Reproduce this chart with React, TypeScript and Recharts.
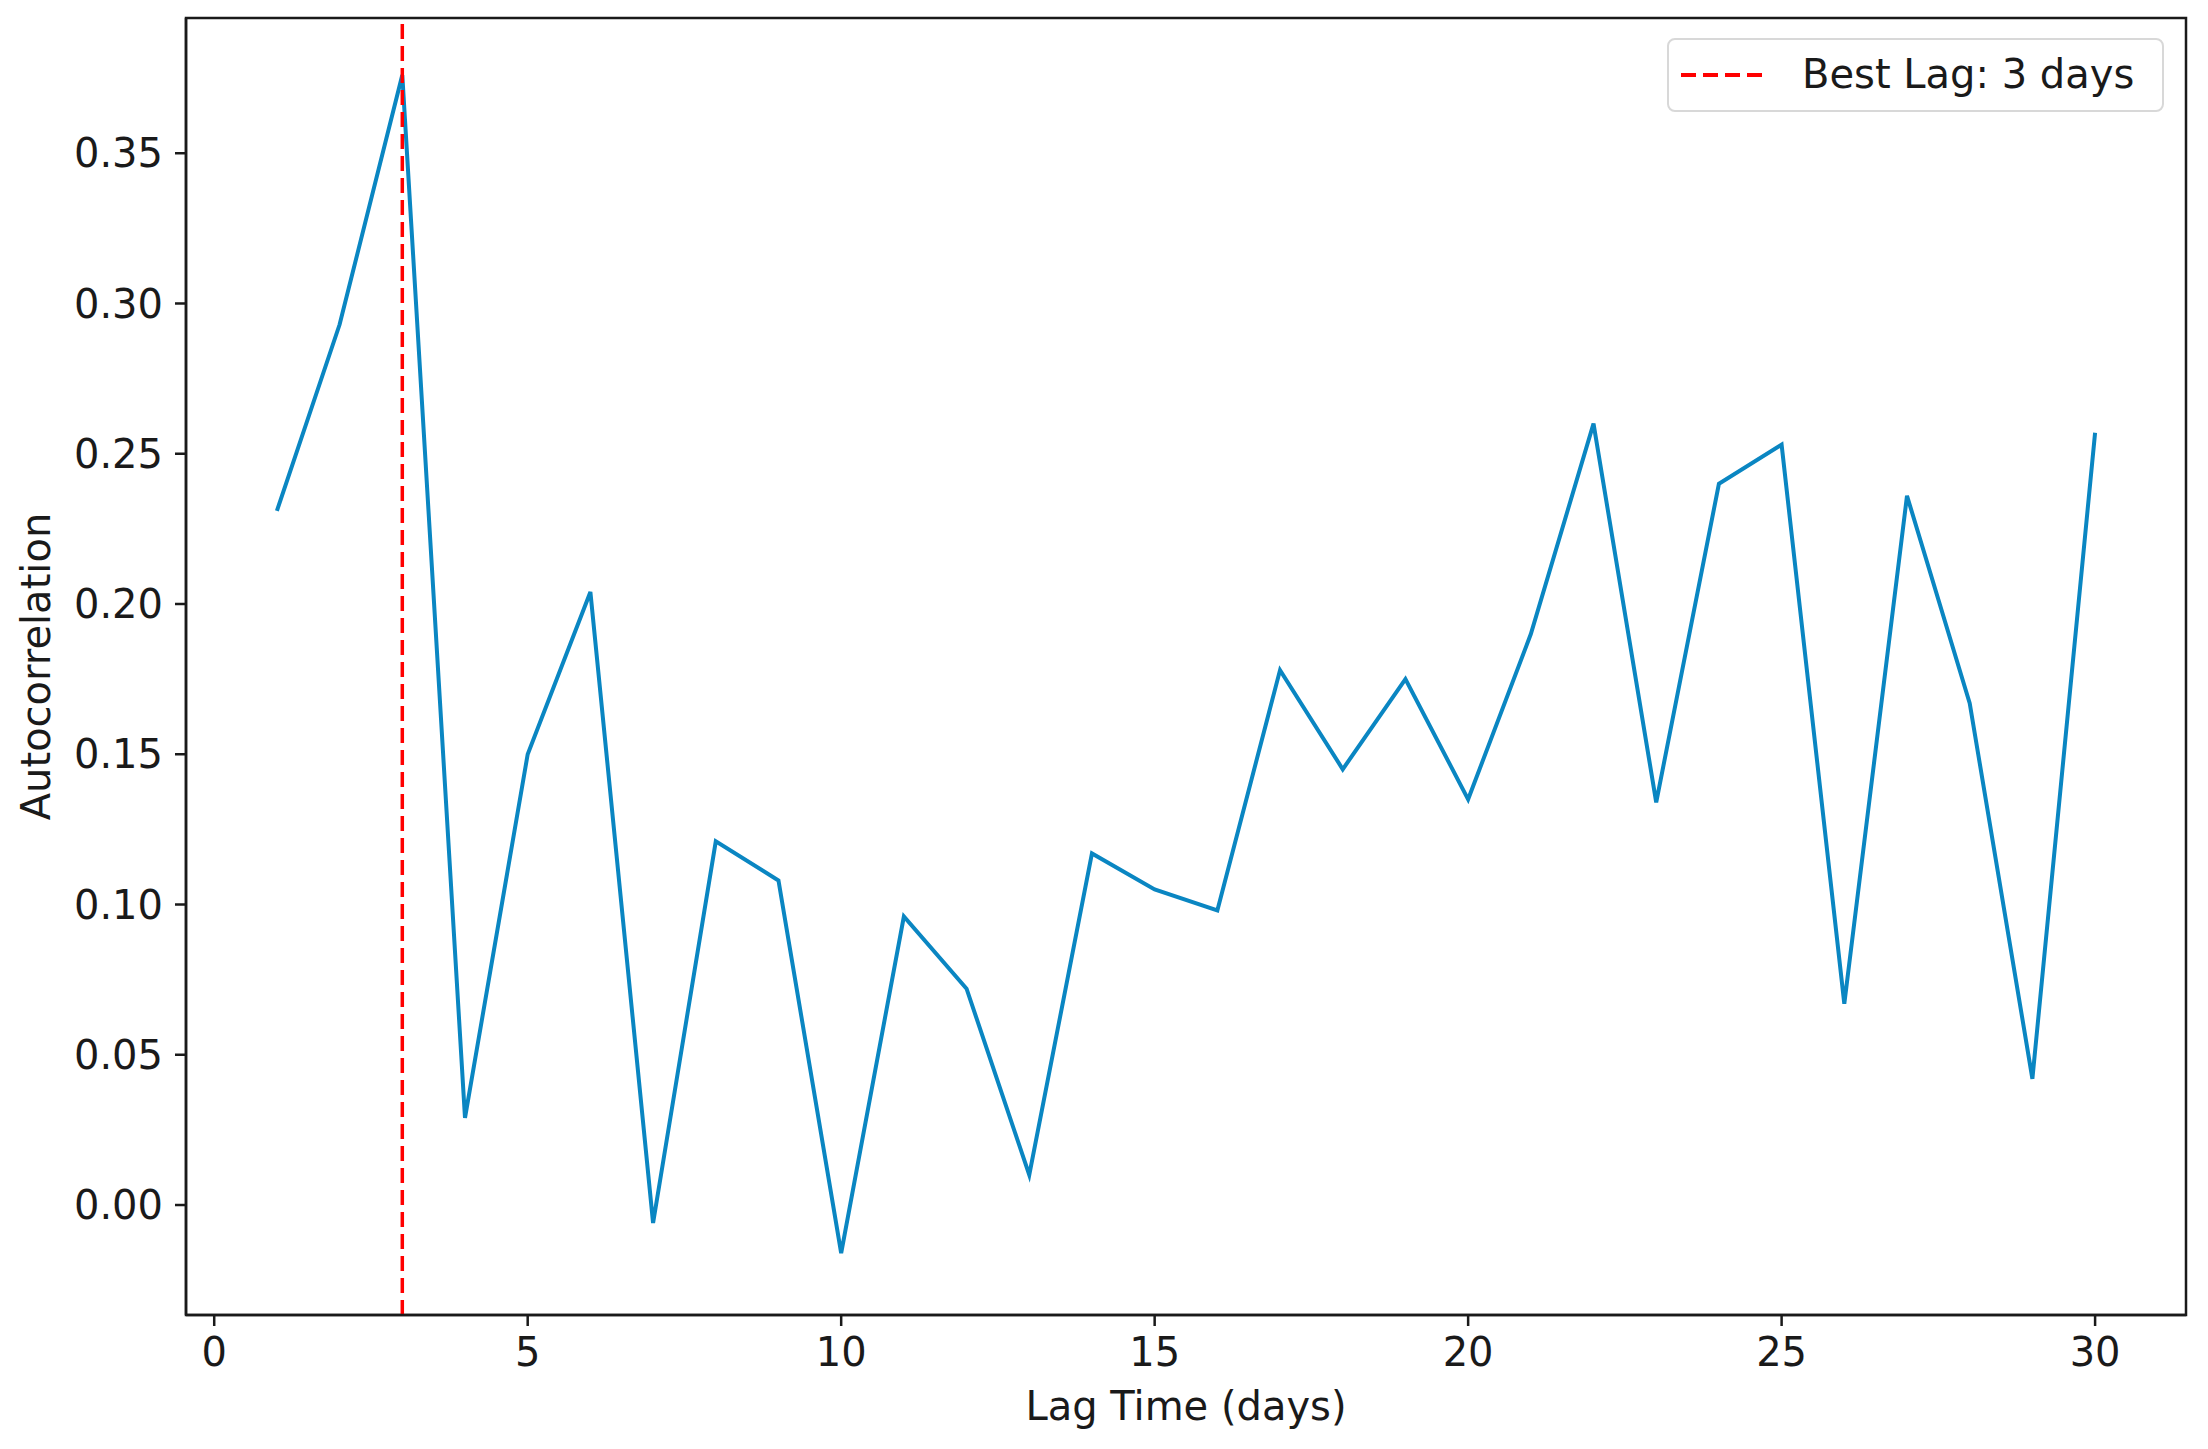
import React from 'react';
import {
  LineChart,
  Line,
  XAxis,
  YAxis,
  ReferenceLine,
  ReferenceArea,
  Legend,
  Label,
} from 'recharts';

// lag (days) and autocorrelation
const lags = [1, 2, 3, 4, 5, 6, 7, 8, 9, 10, 11, 12, 13, 14, 15, 16, 17, 18, 19, 20, 21, 22, 23, 24, 25, 26, 27, 28, 29, 30];
const autocorr = [
  0.231, 0.293, 0.376, 0.029, 0.150, 0.204, -0.006, 0.121, 0.108, -0.016,
  0.096, 0.072, 0.010, 0.117, 0.105, 0.098, 0.178, 0.145, 0.175, 0.135,
  0.190, 0.260, 0.134, 0.240, 0.253, 0.067, 0.236, 0.167, 0.042, 0.257,
];
const bestLag = 3;

const xTicks = [0, 5, 10, 15, 20, 25, 30];
const yTicks = [0, 0.05, 0.1, 0.15, 0.2, 0.25, 0.3, 0.35];
const xDomain: [number, number] = [-0.45, 31.45];
const yDomain: [number, number] = [-0.0366, 0.395];

const FONT = '"DejaVu Sans", sans-serif';
const AXIS = '#1a1a1a';
const BLUE = '#0a86c2';

const chartData = lags.map((lag, i) => ({ lag, value: autocorr[i] }));

function LegendBox() {
  return (
    <div
      style={{
        width: 497,
        height: 74,
        boxSizing: 'border-box',
        border: '2px solid #d8d8d8',
        borderRadius: 8,
        background: 'rgba(255,255,255,0.85)',
        position: 'relative',
        fontFamily: FONT,
        fontSize: 40,
        color: '#1a1a1a',
      }}
    >
      <svg width={90} height={10} style={{ position: 'absolute', left: 12, top: 30 }}>
        <line x1={0} y1={5} x2={84} y2={5} stroke="red" strokeWidth={4} strokeDasharray="15 7" />
      </svg>
      <span style={{ position: 'absolute', left: 133, top: 4, whiteSpace: 'nowrap', lineHeight: '60px' }}>
        {`Best Lag: ${bestLag} days`}
      </span>
    </div>
  );
}

export default function App() {
  return (
    <div style={{ position: 'relative', width: 2192, height: 1432 }}>
      <LineChart
        width={2192}
        height={1432}
        data={chartData}
        margin={{ top: 10, right: 14, bottom: 15, left: 10 }}
      >
        <XAxis
          dataKey="lag"
          type="number"
          domain={xDomain}
          ticks={xTicks}
          allowDataOverflow
          height={110}
          stroke={AXIS}
          strokeWidth={2.5}
          tickSize={11}
          tickMargin={12}
          tick={{ fill: '#1a1a1a', fontSize: 40, fontFamily: FONT }}
        >
          <Label
            value="Lag Time (days)"
            position="insideBottom"
            offset={5}
            style={{ fill: '#1a1a1a', fontSize: 40, fontFamily: FONT }}
          />
        </XAxis>
        <YAxis
          type="number"
          domain={yDomain}
          ticks={yTicks}
          allowDataOverflow
          width={168}
          stroke={AXIS}
          strokeWidth={2.5}
          tickSize={11}
          tickMargin={12}
          tickFormatter={(v: number) => v.toFixed(2)}
          tick={{ fill: '#1a1a1a', fontSize: 40, fontFamily: FONT }}
        >
          <Label
            content={(props: any) => {
              const vb = props.viewBox || { x: 10, y: 10, height: 1297 };
              const x = vb.x + 32;
              const y = vb.y + vb.height / 2;
              return (
                <text
                  x={x}
                  y={y}
                  transform={`rotate(-90, ${x}, ${y})`}
                  textAnchor="middle"
                  fill="#1a1a1a"
                  fontSize={40}
                  fontFamily={FONT}
                >
                  Autocorrelation
                </text>
              );
            }}
          />
        </YAxis>
        {/* full box frame like matplotlib spines */}
        <ReferenceArea
          x1={xDomain[0]}
          x2={xDomain[1]}
          y1={yDomain[0]}
          y2={yDomain[1]}
          fill="none"
          fillOpacity={0}
          stroke={AXIS}
          strokeWidth={2.5}
          ifOverflow="visible"
        />
        <Line
          type="linear"
          dataKey="value"
          stroke={BLUE}
          strokeWidth={4}
          dot={false}
          activeDot={false}
          isAnimationActive={false}
        />
        <ReferenceLine x={bestLag} stroke="red" strokeWidth={3.5} strokeDasharray="15 7" />
        <Legend
          layout="horizontal"
          verticalAlign="middle"
          align="center"
          content={() => <LegendBox />}
          wrapperStyle={{ position: 'absolute', left: 1659, top: 30, width: 497, height: 74 }}
        />
      </LineChart>
    </div>
  );
}
